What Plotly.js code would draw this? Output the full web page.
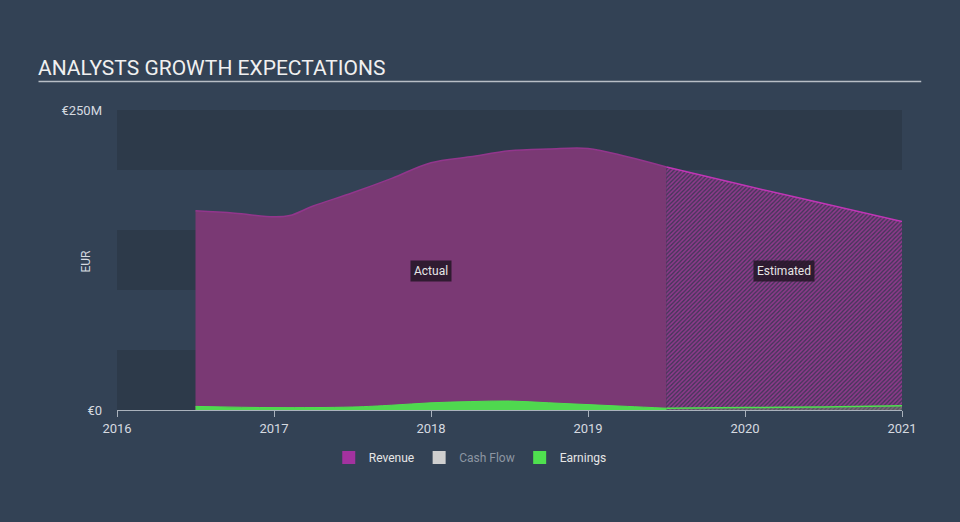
<!DOCTYPE html>
<html>
<head>
<meta charset="utf-8">
<script src="https://cdn.plot.ly/plotly-3.0.1.min.js"></script>
<style>
html,body{margin:0;padding:0;background:#334255;}
#chart{width:960px;height:522px;}
</style>
</head>
<body>
<div id="chart"></div>
<script>
// Data (decimal years, EUR millions)
const revActualYears  = [2016.5, 2016.75, 2017.0, 2017.1, 2017.25, 2017.5, 2017.75, 2018.0, 2018.25, 2018.5, 2018.75, 2019.0, 2019.25, 2019.5];
const revActualValues = [166, 164, 161, 162, 170, 181, 193, 206, 211, 216, 217.5, 218, 211, 202.5];
const revEstYears  = [2019.5, 2020.0, 2020.5, 2021.0];
const revEstValues = [202.5, 187, 172, 157];
const earnActualYears  = [2016.5, 2017.0, 2017.5, 2017.75, 2018.0, 2018.25, 2018.5, 2018.75, 2019.0, 2019.25, 2019.5];
const earnActualValues = [3, 2, 2.5, 4, 6, 7, 7.5, 6, 4.5, 3, 1.5];
const earnEstYears  = [2019.5, 2020.0, 2020.5, 2021.0];
const earnEstValues = [1.5, 2, 2.5, 3.5];
const tickYears = [2016, 2017, 2018, 2019, 2020, 2021];
const tickLabels = ['2016', '2017', '2018', '2019', '2020', '2021'];
const legendNames = ['Revenue', '<span style="color:#8d96a2">Cash Flow</span>', 'Earnings'];
const legendColors = ['#a3329f', '#cfcfcf', '#4fe04f'];

const traces = [
  {x: revActualYears, y: revActualValues, type: 'scatter', mode: 'lines', fill: 'tozeroy',
   fillcolor: '#7a3974', line: {color: '#92368c', width: 1.5, shape: 'spline'}, showlegend: false, hoverinfo: 'skip'},
  {x: revEstYears, y: revEstValues, type: 'scatter', mode: 'lines', fill: 'tozeroy',
   fillcolor: '#463659',
   fillpattern: {shape: '/', fgcolor: '#923a8e', bgcolor: '#47375b', size: 3, solidity: 0.5},
   line: {color: '#c036b6', width: 1.5, shape: 'spline'}, showlegend: false, hoverinfo: 'skip'},
  {x: earnActualYears, y: earnActualValues, type: 'scatter', mode: 'lines', fill: 'tozeroy',
   fillcolor: '#4fd84f', line: {color: '#4fe04f', width: 1, shape: 'spline'}, showlegend: false, hoverinfo: 'skip'},
  {x: earnEstYears, y: earnEstValues, type: 'scatter', mode: 'lines', fill: 'tozeroy',
   fillcolor: 'rgba(79,224,79,0.25)', line: {color: '#4fe04f', width: 1.5, shape: 'spline'}, showlegend: false, hoverinfo: 'skip'}
];
legendNames.forEach((n, i) => {
  traces.push({x: [null], y: [null], type: 'scatter', mode: 'markers', name: n,
    marker: {symbol: 'square', size: 13, color: legendColors[i]}, showlegend: true});
});

const bandColor = '#2d3a4a';
const shapes = [
  {type: 'rect', xref: 'paper', yref: 'y', x0: 0, x1: 1, y0: 0, y1: 50, fillcolor: bandColor, line: {width: 0}, layer: 'below'},
  {type: 'rect', xref: 'paper', yref: 'y', x0: 0, x1: 1, y0: 100, y1: 150, fillcolor: bandColor, line: {width: 0}, layer: 'below'},
  {type: 'rect', xref: 'paper', yref: 'y', x0: 0, x1: 1, y0: 200, y1: 250, fillcolor: bandColor, line: {width: 0}, layer: 'below'},
  {type: 'line', xref: 'paper', yref: 'paper', x0: -0.1, x1: 1.0245, y0: 1.095, y1: 1.095, line: {color: '#b8bec6', width: 1.5}}
];

const annotations = [
  {x: 2018.0, y: 116, xref: 'x', yref: 'y', text: 'Actual', showarrow: false,
   font: {family: 'Roboto, sans-serif', size: 12, color: '#e6e6e6'}, bgcolor: 'rgba(35,22,38,0.85)', borderpad: 3},
  {x: 2020.25, y: 116, xref: 'x', yref: 'y', text: 'Estimated', showarrow: false,
   font: {family: 'Roboto, sans-serif', size: 12, color: '#e6e6e6'}, bgcolor: 'rgba(35,22,38,0.85)', borderpad: 3},
  {x: (85 - 117) / 785, y: 0.495, xref: 'paper', yref: 'paper', text: 'EUR', textangle: -90, showarrow: false,
   xanchor: 'center', yanchor: 'middle', font: {family: 'Roboto, sans-serif', size: 12, color: '#d6dae0'}}
];

const layout = {
  width: 960, height: 522,
  paper_bgcolor: '#334255', plot_bgcolor: 'rgba(0,0,0,0)',
  margin: {l: 117, r: 58, t: 110, b: 112},
  title: {text: 'ANALYSTS GROWTH EXPECTATIONS', x: 38/960, xanchor: 'left', y: 1 - 68/522, yanchor: 'middle',
    font: {family: 'Roboto, sans-serif', size: 21, color: '#f0f0f0'}},
  font: {family: 'Roboto, sans-serif', color: '#d0d4da', size: 12},
  xaxis: {range: [2016, 2021], tickvals: tickYears, ticktext: tickLabels, showgrid: false, zeroline: false,
    showline: true, linecolor: '#aab2bc', linewidth: 1, ticks: 'outside', ticklen: 6, tickcolor: '#aab2bc',
    tickfont: {size: 13, color: '#d6dae0'}, fixedrange: true},
  yaxis: {range: [0, 250], tickvals: [0, 250], ticktext: ['€0', '€250M'], showgrid: false, zeroline: false,
    showline: false, ticks: '', tickfont: {size: 13, color: '#d6dae0'}, ticklabelstandoff: 14, fixedrange: true},
  shapes: shapes,
  annotations: annotations,
  legend: {orientation: 'h', x: 0.45, xanchor: 'center', y: -0.11, yanchor: 'top', itemwidth: 30, tracegroupgap: 0,
    font: {size: 12, color: '#e6e6e6'}, itemclick: false, bgcolor: 'rgba(0,0,0,0)'},
  showlegend: true
};

Plotly.newPlot('chart', traces, layout, {displayModeBar: false, staticPlot: true});
</script>
</body>
</html>
